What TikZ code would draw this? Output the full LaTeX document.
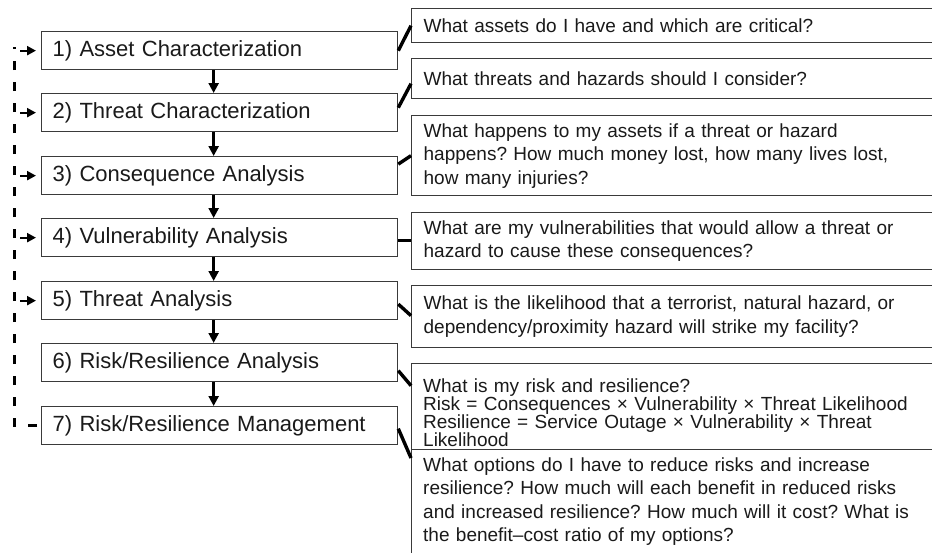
\documentclass[tikz,border=0pt]{standalone}
\usepackage{fontspec}
\setmainfont{Liberation Sans}
\usetikzlibrary{arrows.meta,calc}
\definecolor{boxline}{HTML}{3A3A3A}
\definecolor{txt}{HTML}{1A1A1A}
\frenchspacing
\newcommand\tightlinesfont{\fontsize{19}{18}\selectfont\lineskiplimit=-30pt\relax}
\begin{document}
\begin{tikzpicture}[x=1pt,y=-1pt,
  lbox/.style={draw=boxline, line width=1.3pt, fill=white, anchor=north west,
    minimum width=356pt, minimum height=38pt, text width=334pt, inner xsep=11pt,
    inner ysep=0pt, align=left, font=\fontsize{22}{26}\selectfont, text=txt},
  rbox/.style={draw=boxline, line width=1.3pt, fill=white, anchor=north west,
    minimum width=560pt, text width=536pt, inner xsep=12pt, inner ysep=0pt,
    align=left, font=\fontsize{19}{23.5}\selectfont, text=txt},
  rtext/.style={anchor=north west, inner sep=0pt, text width=500pt, align=left,
    text=txt},
  varrow/.style={line width=2.4pt, -{Triangle[length=10pt,width=10pt]}},
  harrow/.style={line width=2.2pt, -{Triangle[length=9pt,width=9pt]}, shorten >=5pt},
  conn/.style={line width=3.4pt},
  loopline/.style={line width=3.2pt, dash pattern=on 9pt off 12pt, dash phase=17pt}
]
\useasboundingbox (0,0) rectangle (932,552);
\clip (0,0) rectangle (932,552);
\fill[white] (0,0) rectangle (932,552);

% left steps
\node[lbox] (b1) at (41,31)  {1) Asset Characterization};
\node[lbox] (b2) at (41,93)  {2) Threat Characterization};
\node[lbox] (b3) at (41,156) {3) Consequence Analysis};
\node[lbox] (b4) at (41,218) {4) Vulnerability Analysis};
\node[lbox] (b5) at (41,281) {5) Threat Analysis};
\node[lbox] (b6) at (41,343) {6) Risk/Resilience Analysis};
\node[lbox] (b7) at (41,406) {7) Risk/Resilience Management};

% right question boxes
\node[rbox, minimum height=34pt] (r1) at (411,8) {What assets do I have and which are critical?};
\node[rbox, minimum height=40pt] (r2) at (411,58) {What threats and hazards should I consider?};
\node[rbox, minimum height=80pt] (r3) at (411,115) {What happens to my assets if a threat or hazard\\happens? How much money lost, how many lives lost,\\how many injuries?};
\node[rbox, minimum height=57pt] (r4) at (411,212) {What are my vulnerabilities that would allow a threat or\\hazard to cause these consequences?};
\node[rbox, minimum height=62pt] (r5) at (411,285) {What is the likelihood that a terrorist, natural hazard, or\\dependency/proximity hazard will strike my facility?};
\node[rbox, minimum height=86pt] (r6) at (411,363) {};
\node[rbox, minimum height=130pt] (r7) at (411,449) {};
\node[rtext, font=\tightlinesfont] (t6) at ($(r6.north west)+(12,15.5)$)
  {What is my risk and resilience?\\
   Risk = Consequences × Vulnerability × Threat Likelihood\\
   Resilience = Service Outage × Vulnerability × Threat\\
   Likelihood};
\node[rtext, font=\fontsize{19}{23.5}\selectfont] (t7) at ($(r7.north west)+(12,8.5)$)
  {What options do I have to reduce risks and increase\\
   resilience? How much will each benefit in reduced risks\\
   and increased resilience? How much will it cost? What is\\
   the benefit–cost ratio of my options?};

% vertical flow arrows
\foreach \a/\b in {b1/b2,b2/b3,b3/b4,b4/b5,b5/b6,b6/b7}
  \draw[varrow] ([xshift=-6pt]\a.south) -- ([xshift=-6pt]\b.north);

% connectors
\draw[conn] (b1.east) -- (r1.west);
\draw[conn] ($(b2.east)+(0,-5)$) -- ($(r2.west)+(0,5)$);
\draw[conn] ($(b3.east)+(0,-11.5)$) -- (r3.west);
\draw[conn] ($(b4.east)+(0,3)$) -- ($(r4.west)+(0,-0.5)$);
\draw[conn] ($(b5.east)+(0,3.5)$) -- ($(r5.west)+(0,-1)$);
\draw[conn] ($(b6.east)+(0,8)$) -- ($(r6.west)+(0,-21)$);
\draw[conn] ($(b7.east)+(0,3)$) -- ($(r7.north west)+(0,9)$);

% feedback loop
\coordinate (looptop) at (14.5,47);
\draw[loopline] (b7.west) -| (looptop);
\foreach \n in {b1,b2,b3,b4,b5}
  \draw[harrow] ($(\n.west)+(-21,0)$) -- (\n.west);
\end{tikzpicture}
\end{document}
